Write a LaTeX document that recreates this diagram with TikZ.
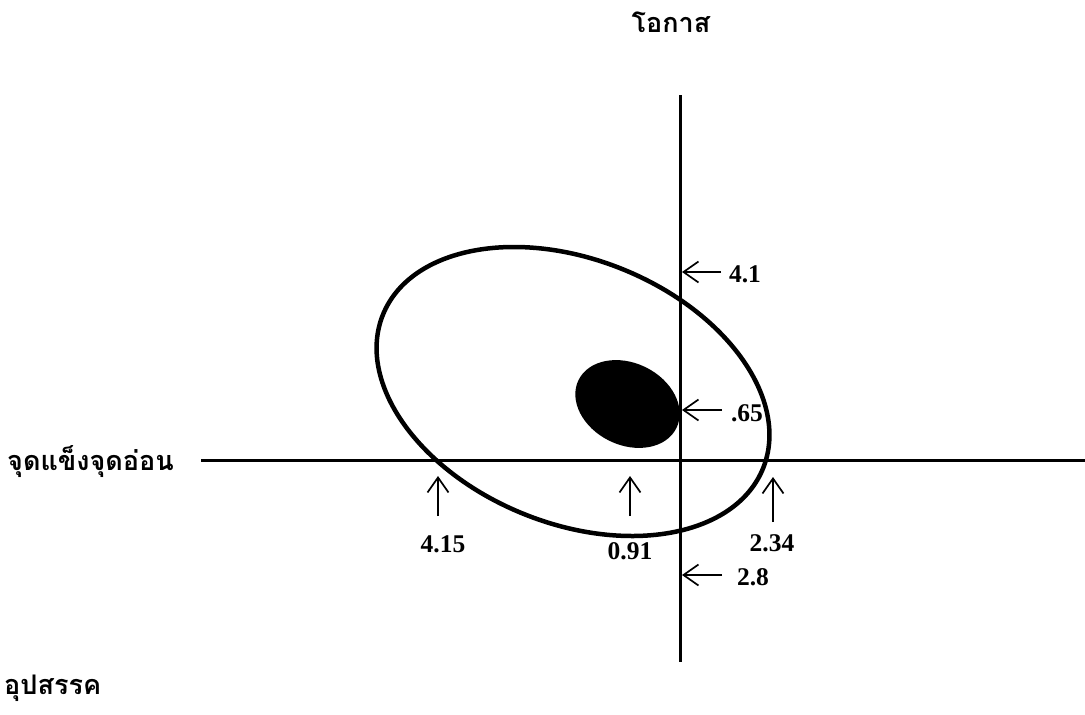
\documentclass[tikz,border=0pt]{standalone}
\usepackage{fontspec}
\setmainfont{Liberation Serif}
\newfontfamily\thaifont[Script=Thai]{Loma}
\usetikzlibrary{arrows.meta}
\tikzset{
  axis/.style={line width=3pt},
  oval/.style={line width=4.5pt},
  pointer/.style={line width=1.7pt,-{Straight Barb[length=15pt,width=21pt,line width=1.7pt]}},
  num/.style={font=\fontsize{25.5pt}{28pt}\selectfont\bfseries, inner sep=0pt},
  thai/.style={font=\thaifont\fontsize{27pt}{30pt}\selectfont\bfseries, inner sep=0pt}
}
\begin{document}
\begin{tikzpicture}[x=1pt,y=-1pt]
\useasboundingbox (0,0) rectangle (1085,715);
% axes
\coordinate (hL) at (201,460);
\coordinate (hR) at (1085,460);
\coordinate (vT) at (680,95);
\coordinate (vB) at (680,662);
\draw[axis] (hL) -- (hR);
\draw[axis] (vT) -- (vB);
% ellipses
\coordinate (bigc) at (573,391.5);
\coordinate (smallc) at (627.5,404);
\draw[oval, rotate around={-22:(bigc)}] (bigc) ellipse [x radius=205pt, y radius=132pt];
\fill[rotate around={-26:(smallc)}] (smallc) ellipse [x radius=54.5pt, y radius=41pt];
% axis titles
\node[thai] (opp) at (671,22) {โอกาส};
\node[thai, anchor=west] (sw) at (7,462) {จุดแข็งจุดอ่อน};
\node[thai, anchor=west] (thr) at (4,688) {อุปสรรค};
% labels
\node[num] (l41) at (745,274) {4.1};
\node[num] (l65) at (747,413) {.65};
\node[num] (l28) at (753,577) {2.8};
\node[num] (l415) at (443,544) {4.15};
\node[num] (l091) at (630,551) {0.91};
\node[num] (l234) at (772,543) {2.34};
% pointer coordinates
\coordinate (a41t) at (721,272); \coordinate (a41h) at (682,272);
\coordinate (a65t) at (722,410); \coordinate (a65h) at (682,410);
\coordinate (a28t) at (722,575); \coordinate (a28h) at (682,575);
\coordinate (a415t) at (438,516); \coordinate (a415h) at (438,476);
\coordinate (a091t) at (630,516); \coordinate (a091h) at (630,476);
\coordinate (a234t) at (773,522); \coordinate (a234h) at (773,477);
\draw[pointer] (a41t) -- (a41h);
\draw[pointer] (a65t) -- (a65h);
\draw[pointer] (a28t) -- (a28h);
\draw[pointer] (a415t) -- (a415h);
\draw[pointer] (a091t) -- (a091h);
\draw[pointer] (a234t) -- (a234h);
\end{tikzpicture}
\end{document}
